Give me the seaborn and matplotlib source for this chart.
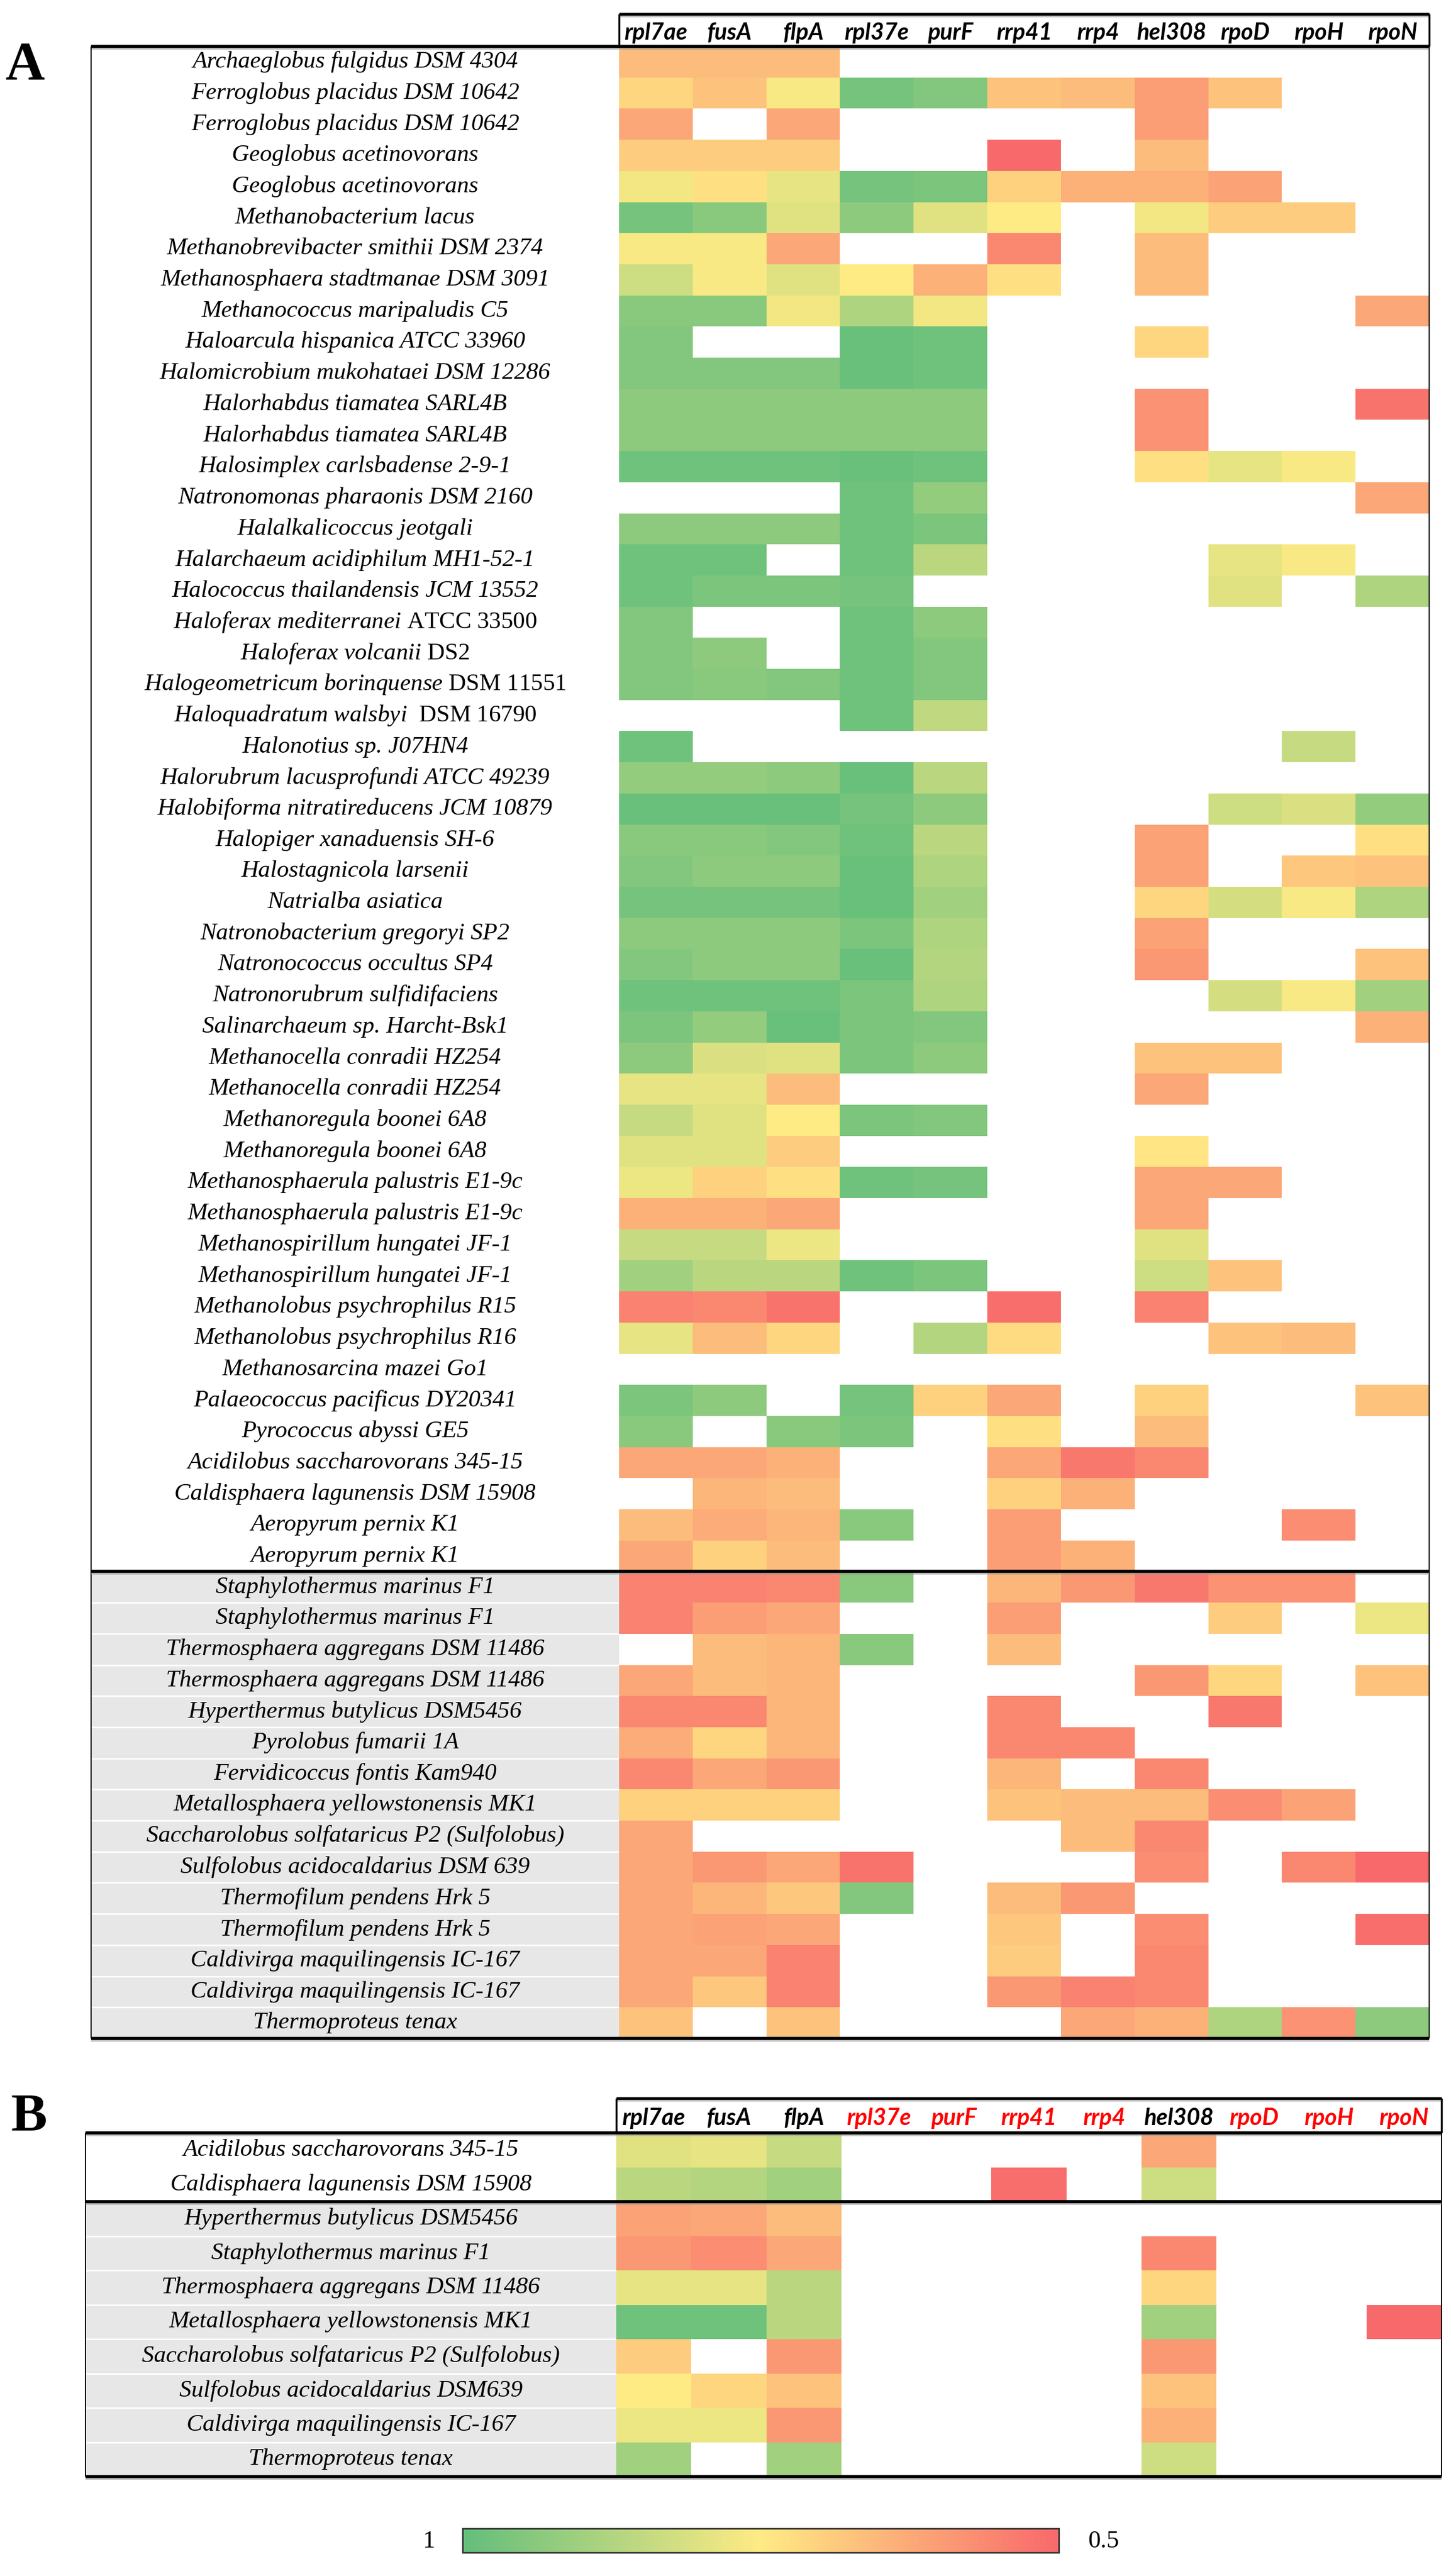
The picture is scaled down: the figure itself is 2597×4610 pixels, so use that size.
import numpy as np
import pandas as pd
import matplotlib
matplotlib.use("Agg")
import matplotlib.pyplot as plt
import seaborn as sns
from matplotlib.colors import LinearSegmentedColormap

N = np.nan

GENES = ["rpl7ae", "fusA", "flpA", "rpl37e", "purF", "rrp41", "rrp4",
         "hel308", "rpoD", "rpoH", "rpoN"]
GENES_RED_B = {"rpl37e", "purF", "rrp41", "rrp4", "rpoD", "rpoH", "rpoN"}

SPECIES_A = [
    "Archaeglobus fulgidus DSM 4304", "Ferroglobus placidus DSM 10642",
    "Ferroglobus placidus DSM 10642", "Geoglobus acetinovorans",
    "Geoglobus acetinovorans", "Methanobacterium lacus",
    "Methanobrevibacter smithii DSM 2374", "Methanosphaera stadtmanae DSM 3091",
    "Methanococcus maripaludis C5", "Haloarcula hispanica ATCC 33960",
    "Halomicrobium mukohataei DSM 12286", "Halorhabdus tiamatea SARL4B",
    "Halorhabdus tiamatea SARL4B", "Halosimplex carlsbadense 2-9-1",
    "Natronomonas pharaonis DSM 2160", "Halalkalicoccus jeotgali",
    "Halarchaeum acidiphilum MH1-52-1", "Halococcus thailandensis JCM 13552",
    "Haloferax mediterranei ATCC 33500", "Haloferax volcanii DS2",
    "Halogeometricum borinquense DSM 11551", "Haloquadratum walsbyi  DSM 16790",
    "Halonotius sp. J07HN4", "Halorubrum lacusprofundi ATCC 49239",
    "Halobiforma nitratireducens JCM 10879", "Halopiger xanaduensis SH-6",
    "Halostagnicola larsenii", "Natrialba asiatica",
    "Natronobacterium gregoryi SP2", "Natronococcus occultus SP4",
    "Natronorubrum sulfidifaciens", "Salinarchaeum sp. Harcht-Bsk1",
    "Methanocella conradii HZ254", "Methanocella conradii HZ254",
    "Methanoregula boonei 6A8", "Methanoregula boonei 6A8",
    "Methanosphaerula palustris E1-9c", "Methanosphaerula palustris E1-9c",
    "Methanospirillum hungatei JF-1", "Methanospirillum hungatei JF-1",
    "Methanolobus psychrophilus R15", "Methanolobus psychrophilus R16",
    "Methanosarcina mazei Go1", "Palaeococcus pacificus DY20341",
    "Pyrococcus abyssi GE5", "Acidilobus saccharovorans 345-15",
    "Caldisphaera lagunensis DSM 15908", "Aeropyrum pernix K1",
    "Aeropyrum pernix K1",
    "Staphylothermus marinus F1", "Staphylothermus marinus F1",
    "Thermosphaera aggregans DSM 11486", "Thermosphaera aggregans DSM 11486",
    "Hyperthermus butylicus DSM5456", "Pyrolobus fumarii 1A",
    "Fervidicoccus fontis Kam940", "Metallosphaera yellowstonensis MK1",
    "Saccharolobus solfataricus P2 (Sulfolobus)", "Sulfolobus acidocaldarius DSM 639",
    "Thermofilum pendens Hrk 5", "Thermofilum pendens Hrk 5",
    "Caldivirga maquilingensis IC-167", "Caldivirga maquilingensis IC-167",
    "Thermoproteus tenax",
]
GRAY_START_A = 49  # first row of the shaded block

# upright (non-italic) strain designations
UPRIGHT_TAIL = {
    "Haloferax mediterranei ATCC 33500": "ATCC 33500",
    "Haloferax volcanii DS2": "DS2",
    "Halogeometricum borinquense DSM 11551": "DSM 11551",
    "Haloquadratum walsbyi  DSM 16790": "DSM 16790",
}

# panel A values (1 = identical ... 0.5)
rpl7ae = [.66, .71, .62, .69, .77, .97, .76, .83, .94, .95,
          .95, .93, .93, .98, N, .93, .98, .98, .95, .95,
          .95, N, .98, .92, .99, .94, .95, .97, .93, .95,
          .98, .96, .93, .79, .84, .80, .78, .64, .84, .90,
          .55, .79, N, .96, .94, .62, N, .66, .62, .55,
          .55, N, .62, .56, .63, .56, .70, .62, .62, .62,
          .62, .62, .62, .67]
fusA = [.66, .67, N, .69, .73, .94, .76, .76, .94, N,
        .95, .93, .93, .98, N, .93, .98, .96, N, .93,
        .94, N, N, .92, .99, .94, .93, .97, .93, .93,
        .98, .92, .81, .79, .80, .80, .70, .64, .84, .86,
        .56, .66, N, .93, N, .62, .65, .63, .70, .55,
        .60, .66, .66, .56, .71, .62, .70, N, .59, .65,
        .61, .62, .68, N]
flpA = [.66, .76, .62, .69, .79, .80, .62, .80, .77, N,
        .95, .93, .93, .98, N, .93, N, .96, N, N,
        .95, N, N, .93, .99, .95, .93, .97, .93, .93,
        .98, .99, .80, .66, .75, .69, .73, .62, .78, .86,
        .52, .71, N, N, .94, .64, .66, .65, .66, .56,
        .62, .65, .65, .65, .65, .59, .70, N, .62, .68,
        .62, .55, .55, .67]
rpl37e = [N, .97, N, N, .97, .93, N, .75, .88, .99,
          .99, .93, .93, .99, .98, .98, .98, .97, .98, .98,
          .98, .98, N, .99, .97, .98, .99, .99, .96, .99,
          .96, .96, .96, N, .96, N, .98, N, N, .98,
          N, N, N, .97, .96, N, N, .94, N, .94,
          N, .94, N, N, N, N, N, N, .52, .95,
          N, N, N, N]
purF = [N, .95, N, N, .96, .80, N, .64, .77, .98,
        .98, .93, .93, .98, .92, .96, .86, N, .93, .95,
        .95, .85, N, .86, .93, .86, .88, .90, .88, .87,
        .88, .95, .93, N, .95, N, .97, N, N, .96,
        N, .87, N, .70, N, N, N, N, N, N,
        N, N, N, N, N, N, N, N, N, N,
        N, N, N, N]
rrp41 = [N, .67, N, .50, .70, .75, .56, .73, N, N,
         N, N, N, N, N, N, N, N, N, N,
         N, N, N, N, N, N, N, N, N, N,
         N, N, N, N, N, N, N, N, N, N,
         .51, .72, N, .62, .73, .62, .70, .60, .60, .65,
         .60, .66, N, .56, .56, .65, .67, N, N, .66,
         .68, .69, .59, N]
rrp4 = [N, .66, N, N, .64, N, N, N, N, N,
        N, N, N, N, N, N, N, N, N, N,
        N, N, N, N, N, N, N, N, N, N,
        N, N, N, N, N, N, N, N, N, N,
        N, N, N, N, N, .53, .64, N, .64, .59,
        N, N, N, N, .56, N, .66, .66, N, .59,
        N, N, .55, .62]
hel308 = [N, .60, .60, .66, .64, .77, .66, .66, N, .71,
          N, .58, .58, .73, N, N, N, N, N, N,
          N, N, N, N, N, .61, .61, .71, .61, .59,
          N, N, .67, .62, N, .74, .62, .62, .80, .83,
          .55, N, N, .70, .66, .56, N, N, N, .53,
          N, N, .59, N, N, .56, .66, .56, .57, N,
          .57, .56, .56, .64]
rpoD = [N, .67, N, N, .61, .69, N, N, N, N,
        N, N, N, .79, N, N, .79, .80, N, N,
        N, N, N, N, .83, N, N, .82, N, N,
        .82, N, .67, N, N, N, .62, N, N, .67,
        N, .67, N, N, N, N, N, N, N, .58,
        .69, N, .71, .53, N, N, .57, N, N, N,
        N, N, N, .88]
rpoH = [N, N, N, N, N, .69, N, N, N, N,
        N, N, N, .76, N, N, .76, N, N, N,
        N, N, .84, N, .81, N, .68, .76, N, N,
        .76, N, N, N, N, N, N, N, N, N,
        N, .66, N, N, N, N, N, .57, N, .58,
        N, N, N, N, N, N, .61, N, .56, N,
        N, N, N, .58]
rpoN = [N, N, N, N, N, N, N, N, .62, N,
        N, .52, N, N, .62, N, N, .88, N, N,
        N, N, N, N, .92, .73, .67, .88, N, .67,
        .90, .64, N, N, N, N, N, N, N, N,
        N, N, N, .67, N, N, N, N, N, N,
        .78, N, .67, N, N, N, N, N, .50, N,
        .51, N, N, .93]

SPECIES_B = [
    "Acidilobus saccharovorans 345-15", "Caldisphaera lagunensis DSM 15908",
    "Hyperthermus butylicus DSM5456", "Staphylothermus marinus F1",
    "Thermosphaera aggregans DSM 11486", "Metallosphaera yellowstonensis MK1",
    "Saccharolobus solfataricus P2 (Sulfolobus)", "Sulfolobus acidocaldarius DSM639",
    "Caldivirga maquilingensis IC-167", "Thermoproteus tenax",
]
GRAY_START_B = 2

b_rpl7ae = [.80, .86, .61, .59, .79, .98, .69, .75, .78, .90]
b_fusA = [.79, .87, .62, .57, .79, .98, N, .71, .78, N]
b_flpA = [.84, .90, .66, .62, .86, .86, .59, .67, .59, .90]
b_rrp41 = [N, .51, N, N, N, N, N, N, N, N]
b_hel308 = [.62, .83, N, .56, .71, .90, .59, .67, .64, .83]
b_rpoN = [N, N, N, N, N, .50, N, N, N, N]
b_empty = [N] * 10

df_a = pd.DataFrame({
    "rpl7ae": rpl7ae, "fusA": fusA, "flpA": flpA, "rpl37e": rpl37e,
    "purF": purF, "rrp41": rrp41, "rrp4": rrp4, "hel308": hel308,
    "rpoD": rpoD, "rpoH": rpoH, "rpoN": rpoN,
}, index=SPECIES_A)[GENES]
df_b = pd.DataFrame({
    "rpl7ae": b_rpl7ae, "fusA": b_fusA, "flpA": b_flpA, "rpl37e": b_empty,
    "purF": b_empty, "rrp41": b_rrp41, "rrp4": b_empty, "hel308": b_hel308,
    "rpoD": b_empty, "rpoH": b_empty, "rpoN": b_rpoN,
}, index=SPECIES_B)[GENES]

# Excel-like green-yellow-red scale
CMAP = LinearSegmentedColormap.from_list(
    "gyr", [(0.0, "#F8696B"), (0.5, "#FFEB84"), (1.0, "#63BE7B")])

plt.rcParams["mathtext.fontset"] = "custom"
plt.rcParams["mathtext.rm"] = "Liberation Serif"
plt.rcParams["mathtext.it"] = "Liberation Serif:italic"

W, H, DPI = 2597, 4610, 100
LABEL_FONT = dict(family="Liberation Serif", fontsize=31)
HEAD_FONT = dict(family=["Lato", "DejaVu Sans"],
                 fontsize=30, fontweight="bold", style="italic")

fig = plt.figure(figsize=(W / DPI, H / DPI), dpi=DPI)
fig.patch.set_facecolor("white")


def px_axes(x0, y0, x1, y1):
    return fig.add_axes([x0 / W, 1 - y1 / H, (x1 - x0) / W, (y1 - y0) / H])


def fmt_label(name):
    if name in UPRIGHT_TAIL:
        tail = UPRIGHT_TAIL[name]
        head = name[: -len(tail)].rstrip()
        gap = "\\ " * (len(name) - len(tail) - len(head) - 1)
        head = head.replace(" ", r"\ ")
        return "$\\mathit{" + head + "}" + gap + "$ " + tail, "normal"
    return name, "italic"


frame = fig.add_axes([0, 0, 1, 1], zorder=10)
frame.set_xlim(0, W)
frame.set_ylim(H, 0)
frame.axis("off")
frame.patch.set_alpha(0)


def hline(y, x0, x1, lw):
    frame.plot([x0, x1], [y + 2, y + 2], color="#9A9A9A", lw=lw + 1.5,
               solid_capstyle="butt", alpha=0.6)
    frame.plot([x0, x1], [y, y], color="black", lw=lw, solid_capstyle="butt")


def vline(x, y0, y1, lw):
    frame.plot([x, x], [y0, y1], color="black", lw=lw, solid_capstyle="butt")


def draw_panel(df, left, split, right, head_top, top, bottom, gray_start,
               letter, letter_xy, red_genes=()):
    n = len(df)
    row_h = (bottom - top) / n

    ax = px_axes(split, top, right, bottom)
    sns.heatmap(df, ax=ax, cmap=CMAP, vmin=0.5, vmax=1.0, cbar=False,
                xticklabels=False, yticklabels=False)
    ax.set_xlabel("")
    ax.set_ylabel("")

    lab = px_axes(left, top, split, bottom)
    lab.set_xlim(0, 1)
    lab.set_ylim(n, 0)
    lab.axis("off")
    lab.axhspan(gray_start, n, color="#E7E7E7", lw=0)
    for i in range(gray_start + 1, n):
        lab.axhline(i, color="white", lw=2)
    for i, name in enumerate(df.index):
        text, style = fmt_label(name)
        lab.text(0.5, i + 0.5, text, ha="center", va="center", style=style,
                 **LABEL_FONT)

    head = px_axes(split, head_top, right, top)
    head.set_xlim(0, len(df.columns))
    head.set_ylim(0, 1)
    head.axis("off")
    for j, g in enumerate(df.columns):
        color = "#FF0000" if g in red_genes else "black"
        head.text(j + 0.5, 0.42, g, ha="center", va="center", color=color,
                  **HEAD_FONT)

    # table rules
    hline(head_top, split, right, 3.5)
    vline(split, head_top, top, 2.5)
    vline(right, head_top, top, 2.5)
    hline(top, left, right, 4)
    vline(left, top, bottom, 1.5)
    vline(right, top, bottom, 1.5)
    hline(top + gray_start * row_h, left, right, 4)
    hline(bottom, left, right, 4)

    fig.text(letter_xy[0] / W, 1 - letter_xy[1] / H, letter, ha="center",
             va="center", family="Liberation Serif", fontweight="bold",
             fontsize=70)
    return ax


ax_a = draw_panel(df_a, 163, 1108, 2558, 25, 83, 3648, GRAY_START_A,
                  "A", (45, 118))
draw_panel(df_b, 153, 1103, 2580, 3755, 3817, 4432, GRAY_START_B,
           "B", (52, 3790), red_genes=GENES_RED_B)

# colour scale
cax = px_axes(828, 4525, 1895, 4568)
cb = fig.colorbar(ax_a.collections[0], cax=cax, orientation="horizontal")
cax.invert_xaxis()
cax.set_xticks([])
cb.outline.set_linewidth(2)
cb.outline.set_edgecolor("#333333")
fig.text(767 / W, 1 - 4548 / H, "1", ha="center", va="center",
         family="Liberation Serif", fontsize=32)
fig.text(1975 / W, 1 - 4548 / H, "0.5", ha="center", va="center",
         family="Liberation Serif", fontsize=32)

fig.savefig("out.png", dpi=DPI, facecolor="white")
